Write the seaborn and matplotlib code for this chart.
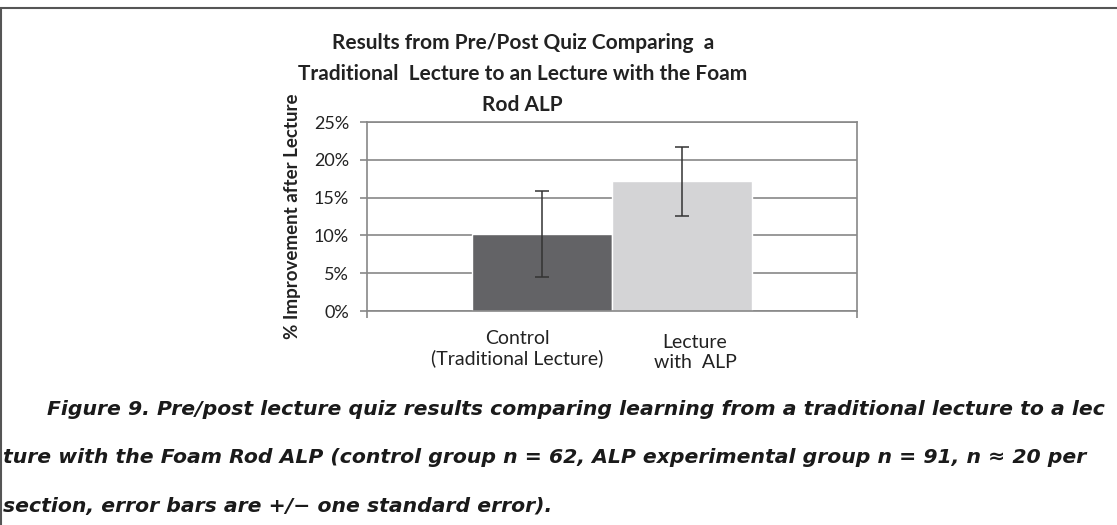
import numpy as np
import pandas as pd
import seaborn as sns
import matplotlib.pyplot as plt
from matplotlib.ticker import PercentFormatter
from matplotlib.lines import Line2D
from matplotlib.transforms import ScaledTranslation

# data (percent improvement, +/- one standard error)
categories = ['Control\n(Traditional Lecture)', 'Lecture\nwith  ALP']
means = [10.15, 17.15]
std_err = [5.7, 4.55]
bar_colors = ['#636366', '#d4d4d6']

title = 'Results from Pre/Post Quiz Comparing  a\nTraditional  Lecture to an Lecture with the Foam\nRod ALP'
ylabel = '% Improvement after Lecture'
caption = ['Figure 9. Pre/post lecture quiz results comparing learning from a traditional lecture to a lec',
           'ture with the Foam Rod ALP (control group n = 62, ALP experimental group n = 91, n \u2248 20 per',
           'section, error bars are +/\u2212 one standard error).']

df = pd.DataFrame({'group': categories, 'improvement': means})

sns.set_style('white')
plt.rcParams['font.family'] = ['Lato', 'DejaVu Sans']

fig = plt.figure(figsize=(11.17, 5.25), dpi=100)
ax = fig.add_axes([0.3286, 0.4076, 0.4387, 0.36])

grid_c = '#888888'
ax.set_axisbelow(True)
ax.yaxis.grid(True, color=grid_c, linewidth=1.2)

sns.barplot(data=df, x='group', y='improvement', hue='group', palette=bar_colors,
            width=1.0, legend=False, errorbar=None, saturation=1, ax=ax, zorder=2)
ax.errorbar(x=np.arange(len(categories)), y=means, yerr=std_err, fmt='none',
            ecolor='#333333', elinewidth=1.1, capsize=5, capthick=1.1, zorder=3)

ax.set_ylim(0, 25)
ax.set_yticks(np.arange(0, 26, 5))
ax.yaxis.set_major_formatter(PercentFormatter(xmax=100, decimals=0))
ax.set_xlim(-1.25, 2.25)
ax.set_xlabel('')
ax.set_ylabel(ylabel, fontsize=13.5, fontweight='bold', color='#222222', labelpad=9)

for side in ['left', 'right', 'top', 'bottom']:
    ax.spines[side].set_visible(True)
    ax.spines[side].set_color(grid_c)
    ax.spines[side].set_linewidth(1.2)

ax.tick_params(axis='y', which='major', left=True, length=5, width=1.2, color=grid_c,
               labelsize=13, labelcolor='#222222', pad=8)
ax.tick_params(axis='x', which='major', bottom=False, labelsize=14, labelcolor='#222222', pad=10)
ax.set_xticks([-1.25, 2.25], minor=True)
ax.tick_params(axis='x', which='minor', bottom=True, length=5, width=1.2, color=grid_c)

# Excel placed the category labels a little off the bar centres
for lab, dx, dy in zip(ax.get_xticklabels(), [-25, 13], [0, -4]):
    lab.set_transform(lab.get_transform() + ScaledTranslation(dx / 100, dy / 100, fig.dpi_scale_trans))

fig.text(0.468, 1 - 33 / 525, title, ha='center', va='top', fontsize=15, fontweight='bold',
         color='#222222', linespacing=1.68)

cap_y = [0.21, 0.118, 0.025]
cap_x = [0.042, 0.003, 0.003]
for txt, x, y in zip(caption, cap_x, cap_y):
    fig.text(x, y, txt, ha='left', va='baseline', fontsize=14.7, fontweight='bold',
             fontstyle='italic', family='DejaVu Sans', color='#1a1a1a')

# frame around the figure region
fig.add_artist(Line2D([0, 1], [1 - 8 / 525] * 2, color='#555555', linewidth=1.5))
fig.add_artist(Line2D([0.001, 0.001], [0, 1 - 8 / 525], color='#555555', linewidth=1.5))

fig.savefig('out.png', dpi=100)
